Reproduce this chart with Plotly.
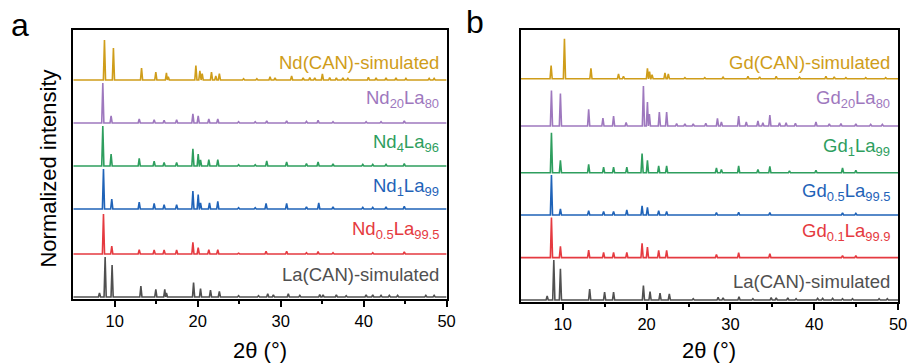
import plotly.graph_objects as go

# ---------------- Panel a: Nd-doped La(CAN) ----------------
a_names = ["La(CAN)-simulated", "Nd<sub>0.5</sub>La<sub>99.5</sub>", "Nd<sub>1</sub>La<sub>99</sub>",
           "Nd<sub>4</sub>La<sub>96</sub>", "Nd<sub>20</sub>La<sub>80</sub>", "Nd(CAN)-simulated"]

a_la_can_pos = [8.16, 8.84, 9.68, 13.15, 14.95, 16.03, 16.23, 19.5, 20.34, 21.54, 22.61, 24.93, 27.33,
                28.44, 29.12, 30.92, 32.31, 34.71, 35.11, 36.71, 37.9, 40.3, 41.1, 42.1, 43.1, 44.1, 47.5, 48.5]
a_la_can_int = [0.10, 1.0, 0.80, 0.27, 0.19, 0.19, 0.10, 0.36, 0.21, 0.17, 0.14, 0.03, 0.03,
                0.08, 0.05, 0.08, 0.04, 0.06, 0.05, 0.05, 0.03, 0.05, 0.05, 0.04, 0.04, 0.04, 0.04, 0.04]

a_nd05_pos = [8.64, 9.64, 12.95, 14.75, 15.95, 17.46, 19.42, 20.06, 21.34, 22.42, 24.93, 28.24,
              30.72, 33.11, 34.51, 36.31, 41.1, 44.9]
a_nd05_int = [1.0, 0.20, 0.11, 0.10, 0.10, 0.10, 0.29, 0.16, 0.11, 0.11, 0.02, 0.07,
              0.07, 0.03, 0.06, 0.03, 0.03, 0.05]

a_nd1_pos = [8.64, 9.64, 12.95, 14.75, 15.95, 17.46, 19.42, 20.06, 20.34, 21.42, 22.42, 24.93, 26.93,
             28.24, 30.72, 33.11, 34.59, 36.31, 39.9, 41.1, 42.7, 44.9]
a_nd1_int = [1.0, 0.25, 0.17, 0.14, 0.11, 0.11, 0.45, 0.36, 0.15, 0.15, 0.19, 0.03, 0.03,
             0.14, 0.14, 0.05, 0.15, 0.05, 0.04, 0.04, 0.05, 0.07]

a_nd4_pos = [8.56, 9.56, 12.95, 14.75, 15.95, 17.46, 19.42, 20.06, 20.34, 21.34, 22.42, 24.93, 26.93,
             28.32, 30.72, 33.11, 34.51, 36.31, 39.9, 41.1, 42.7, 44.9]
a_nd4_int = [1.0, 0.30, 0.19, 0.12, 0.09, 0.09, 0.43, 0.30, 0.15, 0.16, 0.16, 0.03, 0.03,
             0.13, 0.10, 0.06, 0.10, 0.05, 0.04, 0.04, 0.04, 0.06]

a_nd20_pos = [8.56, 9.56, 12.95, 14.75, 15.95, 17.46, 19.42, 20.06, 21.34, 22.42, 24.93, 26.93,
              28.32, 30.72, 33.11, 34.51, 36.31, 40.3, 42.1, 44.9]
a_nd20_int = [1.0, 0.18, 0.10, 0.08, 0.07, 0.08, 0.23, 0.18, 0.10, 0.10, 0.03, 0.03,
              0.05, 0.05, 0.04, 0.07, 0.03, 0.03, 0.03, 0.05]

a_nd_can_pos = [8.76, 9.84, 13.23, 14.95, 16.23, 16.45, 19.78, 20.26, 20.54, 21.66, 22.18, 22.61, 25.53,
                27.13, 28.72, 29.32, 31.32, 32.71, 33.51, 34.11, 35.03, 35.91, 36.71, 37.5, 38.1, 40.58,
                41.5, 42.7, 43.9, 45.1, 47.9, 48.5]
a_nd_can_int = [1.0, 0.80, 0.30, 0.20, 0.18, 0.08, 0.36, 0.23, 0.16, 0.20, 0.10, 0.16, 0.03,
                0.03, 0.08, 0.05, 0.10, 0.05, 0.06, 0.05, 0.15, 0.06, 0.05, 0.05, 0.04, 0.07,
                0.05, 0.05, 0.05, 0.04, 0.04, 0.04]

# ---------------- Panel b: Gd-doped La(CAN) ----------------
b_names = ["La(CAN)-simulated", "Gd<sub>0.1</sub>La<sub>99.9</sub>", "Gd<sub>0.5</sub>La<sub>99.5</sub>",
           "Gd<sub>1</sub>La<sub>99</sub>", "Gd<sub>20</sub>La<sub>80</sub>", "Gd(CAN)-simulated"]

b_la_can_pos = [8.14, 8.93, 9.72, 13.21, 14.99, 16.06, 19.62, 20.41, 21.6, 22.71, 25.56, 28.53, 29.12,
                31.02, 32.68, 34.86, 35.46, 36.84, 37.83, 40.4, 41.0, 42.19, 43.37, 44.56, 47.73, 48.71]
b_la_can_int = [0.10, 1.0, 0.78, 0.27, 0.20, 0.20, 0.36, 0.21, 0.17, 0.15, 0.03, 0.07, 0.05,
                0.08, 0.03, 0.06, 0.05, 0.05, 0.03, 0.04, 0.04, 0.04, 0.03, 0.03, 0.03, 0.03]

b_gd01_pos = [8.65, 9.72, 13.09, 14.87, 16.06, 17.64, 19.46, 20.1, 21.44, 22.39, 28.33, 30.98, 34.7, 43.37, 44.96]
b_gd01_int = [1.0, 0.28, 0.19, 0.13, 0.13, 0.13, 0.36, 0.26, 0.18, 0.18, 0.08, 0.12, 0.10, 0.05, 0.05]

b_gd05_pos = [8.65, 9.72, 13.09, 14.87, 16.06, 17.64, 19.46, 20.1, 21.44, 22.39, 28.33, 30.98, 34.7, 43.37, 44.96]
b_gd05_int = [1.0, 0.15, 0.11, 0.09, 0.09, 0.13, 0.23, 0.19, 0.11, 0.09, 0.06, 0.07, 0.06, 0.05, 0.04]

b_gd1_pos = [8.65, 9.72, 13.09, 14.87, 16.06, 17.64, 19.46, 20.1, 21.44, 22.39, 28.33, 28.92, 30.98,
             33.28, 34.7, 37.04, 40.2, 43.37, 44.96]
b_gd1_int = [1.0, 0.31, 0.21, 0.14, 0.14, 0.14, 0.48, 0.31, 0.17, 0.17, 0.12, 0.08, 0.17,
             0.08, 0.16, 0.05, 0.06, 0.12, 0.06]

b_gd20_pos = [8.65, 9.72, 13.09, 14.79, 16.06, 17.56, 19.62, 20.1, 20.33, 21.52, 22.39, 23.58, 24.57,
              25.56, 27.06, 28.45, 28.92, 30.98, 31.89, 33.28, 33.87, 34.7, 35.85, 36.64, 37.75, 40.2,
              41.79, 43.18, 44.96, 46.73, 48.12]
b_gd20_int = [0.89, 0.81, 0.42, 0.20, 0.25, 0.09, 1.0, 0.60, 0.30, 0.35, 0.35, 0.06, 0.05,
              0.05, 0.07, 0.19, 0.10, 0.25, 0.10, 0.13, 0.08, 0.27, 0.08, 0.08, 0.07, 0.10,
              0.05, 0.06, 0.05, 0.04, 0.04]

b_gd_can_pos = [8.61, 10.2, 13.36, 16.65, 17.24, 20.1, 20.35, 20.65, 22.19, 22.59, 24.57, 26.94, 29.12,
                32.09, 33.48, 35.46, 38.23, 41.39, 42.38, 43.77, 46.14, 48.52]
b_gd_can_int = [0.33, 1.0, 0.26, 0.12, 0.06, 0.26, 0.18, 0.10, 0.15, 0.12, 0.03, 0.03, 0.04,
                0.06, 0.05, 0.06, 0.04, 0.06, 0.05, 0.03, 0.03, 0.03]

colors = ["#505050", "#E53A40", "#1F63B8", "#2E9E5E", "#9E78BE", "#CF9D1A"]

# vertical stacking offsets (normalized units) and label heights above each baseline
a_offsets = [0.05, 1.125, 2.25, 3.325, 4.4, 5.475]
b_offsets = [0.05, 1.11, 2.175, 3.23, 4.4, 5.58]
a_label_dy = [0.57, 0.60, 0.55, 0.58, 0.60, 0.445]
b_label_dy = [0.46, 0.63, 0.58, 0.64, 0.67, 0.42]

a_peaks = [(a_la_can_pos, a_la_can_int), (a_nd05_pos, a_nd05_int), (a_nd1_pos, a_nd1_int),
           (a_nd4_pos, a_nd4_int), (a_nd20_pos, a_nd20_int), (a_nd_can_pos, a_nd_can_int)]
b_peaks = [(b_la_can_pos, b_la_can_int), (b_gd01_pos, b_gd01_int), (b_gd05_pos, b_gd05_int),
           (b_gd1_pos, b_gd1_int), (b_gd20_pos, b_gd20_int), (b_gd_can_pos, b_gd_can_int)]

HALF_WIDTH = 0.13
X_MIN, X_MAX = 5.0, 50.0


def stick_profile(pos, inten, base):
    """Line through each reflection: baseline -> peak top -> baseline."""
    pairs = sorted(zip(pos, inten))
    xs, ys = [X_MIN], [base]
    for i, (p, h) in enumerate(pairs):
        left = p - HALF_WIDTH
        right = p + HALF_WIDTH
        if i > 0:
            left = max(left, (pairs[i - 1][0] + p) / 2)
        if i < len(pairs) - 1:
            right = min(right, (pairs[i + 1][0] + p) / 2)
        xs += [left, p, right]
        ys += [base, base + h, base]
    xs.append(X_MAX)
    ys.append(base)
    return xs, ys


fig = go.Figure()
label_font = "Liberation Sans, Arial, sans-serif"

for panel, (peaks, offsets, names, dys, xa, ya) in enumerate([
        (a_peaks, a_offsets, a_names, a_label_dy, "x", "y"),
        (b_peaks, b_offsets, b_names, b_label_dy, "x2", "y2")]):
    for k, ((pos, inten), base) in enumerate(zip(peaks, offsets)):
        xs, ys = stick_profile(pos, inten, base)
        fig.add_trace(go.Scatter(x=xs, y=ys, mode="lines", xaxis=xa, yaxis=ya,
                                 line=dict(color=colors[k], width=1.6), showlegend=False,
                                 hoverinfo="skip"))
        fig.add_annotation(x=49.3, y=base + dys[k], xref=xa, yref=ya, text=names[k],
                           showarrow=False, xanchor="right", yanchor="middle",
                           font=dict(family=label_font, size=18.5, color=colors[k]))

W, H = 919, 364
axis_common = dict(showline=True, mirror=True, linecolor="black", linewidth=1.6,
                   showgrid=False, zeroline=False)
xaxis_common = dict(axis_common, range=[X_MIN, X_MAX], tickmode="array",
                    tickvals=[10, 20, 30, 40, 50], ticks="outside", ticklen=6, tickwidth=1.5,
                    tickcolor="black",
                    tickfont=dict(family=label_font, size=16.5, color="black"),
                    minor=dict(tickmode="array", tickvals=[15, 25, 35, 45], ticks="outside",
                               ticklen=3, tickwidth=1.5, tickcolor="black"))
yaxis_common = dict(axis_common, showticklabels=False, ticks="")

fig.update_layout(
    width=W, height=H, margin=dict(l=0, r=0, t=0, b=0),
    paper_bgcolor="white", plot_bgcolor="white",
    xaxis=dict(xaxis_common, domain=[74 / W, 451 / W], anchor="y"),
    yaxis=dict(yaxis_common, domain=[1 - 299 / H, 1 - 30 / H], range=[0, 269 / 40], anchor="x"),
    xaxis2=dict(xaxis_common, domain=[526 / W, 907 / W], anchor="y2"),
    yaxis2=dict(yaxis_common, domain=[1 - 302 / H, 1 - 30 / H], range=[0, 272 / 40], anchor="x2"),
)

# axis titles and panel letters
title_font = dict(family=label_font, size=22, color="black")
fig.add_annotation(x=262.5 / W, y=1 - 350 / H, xref="paper", yref="paper", text="2θ (°)",
                   showarrow=False, xanchor="center", yanchor="middle", font=title_font)
fig.add_annotation(x=716.5 / W, y=1 - 350 / H, xref="paper", yref="paper", text="2θ (°)",
                   showarrow=False, xanchor="center", yanchor="middle", font=title_font)
fig.add_annotation(x=48 / W, y=1 - 169 / H, xref="paper", yref="paper", text="Normalized intensity",
                   showarrow=False, xanchor="center", yanchor="middle", textangle=-90, font=title_font)
fig.add_annotation(x=20 / W, y=1 - 25 / H, xref="paper", yref="paper", text="a",
                   showarrow=False, xanchor="center", yanchor="middle",
                   font=dict(family=label_font, size=32, color="black"))
fig.add_annotation(x=480 / W, y=1 - 22 / H, xref="paper", yref="paper", text="b",
                   showarrow=False, xanchor="center", yanchor="middle",
                   font=dict(family=label_font, size=32, color="black"))

fig.write_html("out.html")
